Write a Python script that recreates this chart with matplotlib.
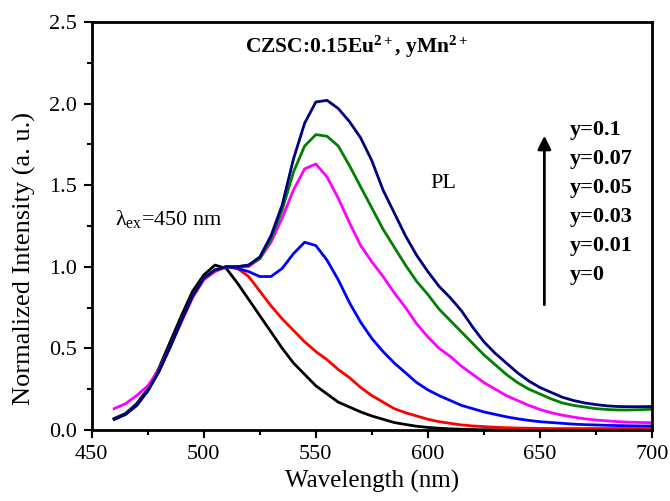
import numpy as np
import matplotlib
matplotlib.use("Agg")
import matplotlib.pyplot as plt
from matplotlib.ticker import MultipleLocator

plt.rcParams["font.family"] = "Liberation Serif"
plt.rcParams["mathtext.fontset"] = "custom"
plt.rcParams["mathtext.rm"] = "Liberation Serif"
plt.rcParams["mathtext.it"] = "Liberation Serif:italic"
plt.rcParams["mathtext.bf"] = "Liberation Serif:bold"

# wavelength grid (nm)
wavelength = list(range(460, 705, 5))

y0 = [0.07, 0.10, 0.16, 0.25, 0.38, 0.54, 0.70, 0.85, 0.95, 1.01, 0.99,
      0.90, 0.80, 0.70, 0.60, 0.50, 0.41, 0.34, 0.27, 0.22, 0.17, 0.14, 0.11,
      0.085, 0.065, 0.045, 0.033, 0.022, 0.015, 0.010, 0.006, 0.004, 0.002,
      0.001, 0.001, 0.001, 0.001, 0.001, 0.001, 0.001, 0.001, 0.001, 0.001,
      0.001, 0.001, 0.001, 0.001, 0.001, 0.001]
y001 = [0.065, 0.095, 0.15, 0.24, 0.36, 0.51, 0.67, 0.82, 0.93, 0.98, 1.0,
        0.99, 0.94, 0.85, 0.76, 0.68, 0.61, 0.54, 0.48, 0.43, 0.37, 0.32, 0.26,
        0.21, 0.17, 0.13, 0.105, 0.085, 0.065, 0.05, 0.04, 0.03, 0.024, 0.02,
        0.016, 0.013, 0.011, 0.010, 0.009, 0.008, 0.008, 0.008, 0.008, 0.008,
        0.008, 0.008, 0.008, 0.008, 0.008]
y003 = [0.065, 0.095, 0.15, 0.24, 0.36, 0.51, 0.67, 0.82, 0.93, 0.98, 1.0,
        0.99, 0.97, 0.94, 0.94, 0.99, 1.08, 1.15, 1.13, 1.04, 0.92, 0.78, 0.66,
        0.56, 0.48, 0.41, 0.35, 0.29, 0.245, 0.21, 0.18, 0.15, 0.13, 0.11,
        0.095, 0.08, 0.068, 0.058, 0.05, 0.045, 0.04, 0.035, 0.032, 0.03,
        0.028, 0.026, 0.025, 0.024, 0.024]
y005 = [0.13, 0.16, 0.21, 0.27, 0.37, 0.51, 0.66, 0.81, 0.92, 0.97, 1.0,
        1.0, 1.0, 1.05, 1.15, 1.30, 1.47, 1.60, 1.63, 1.55, 1.42, 1.27, 1.13,
        1.03, 0.94, 0.84, 0.75, 0.65, 0.57, 0.50, 0.45, 0.39, 0.34, 0.29,
        0.25, 0.21, 0.18, 0.15, 0.125, 0.105, 0.09, 0.078, 0.068, 0.06,
        0.055, 0.05, 0.047, 0.045, 0.044]
y007 = [0.065, 0.095, 0.15, 0.24, 0.36, 0.51, 0.67, 0.82, 0.93, 0.98, 1.0,
        1.0, 1.01, 1.05, 1.17, 1.35, 1.58, 1.74, 1.81, 1.80, 1.74, 1.62, 1.49,
        1.36, 1.23, 1.12, 1.01, 0.91, 0.83, 0.74, 0.67, 0.60, 0.53, 0.46,
        0.40, 0.34, 0.29, 0.25, 0.22, 0.19, 0.165, 0.15, 0.14, 0.13,
        0.125, 0.122, 0.122, 0.124, 0.126]
y01 = [0.065, 0.095, 0.15, 0.24, 0.36, 0.51, 0.67, 0.82, 0.93, 0.98, 1.0,
       1.0, 1.01, 1.06, 1.19, 1.38, 1.66, 1.88, 2.01, 2.02, 1.97, 1.89, 1.79,
       1.65, 1.47, 1.33, 1.19, 1.07, 0.97, 0.88, 0.81, 0.73, 0.63, 0.54,
       0.47, 0.41, 0.35, 0.30, 0.26, 0.23, 0.20, 0.18, 0.165, 0.155,
       0.147, 0.143, 0.142, 0.142, 0.143]

series = [y0, y001, y003, y005, y007, y01]
colors = ["black", "#ff0000", "#0000ff", "#ff00ff", "#008000", "#000080"]
conc_labels = ["y=0.1", "y=0.07", "y=0.05", "y=0.03", "y=0.01", "y=0"]

fig = plt.figure(figsize=(6.7, 5.01), dpi=100)
ax = fig.add_axes([0.137, 0.142, 0.836, 0.814])

for ys, c in zip(series, colors):
    ax.plot(wavelength, ys, color=c, lw=2, solid_joinstyle="round")

ax.set_xlim(450, 700)
ax.set_ylim(0, 2.5)
ax.xaxis.set_major_locator(MultipleLocator(50))
ax.xaxis.set_minor_locator(MultipleLocator(25))
ax.yaxis.set_major_locator(MultipleLocator(0.5))
ax.yaxis.set_minor_locator(MultipleLocator(0.25))
ax.tick_params(which="both", direction="out", width=1.5, labelsize=16,
               top=False, right=False, pad=5)
ax.tick_params(which="major", length=6)
ax.tick_params(which="minor", length=3.5)
for sp in ax.spines.values():
    sp.set_linewidth(2)

ax.set_xlabel("Wavelength (nm)", fontsize=18, labelpad=4)
ax.set_ylabel("Normalized Intensity (a. u.)", fontsize=19)
ax.yaxis.set_label_coords(-0.1, 0.42)

ax.text(568, 2.35, r"CZSC:0.15Eu$^{\mathbf{2+}}$, yMn$^{\mathbf{2+}}$",
        fontsize=15.5, fontweight="bold", ha="center", va="center")
ax.text(460.5, 1.29, r"$\mathrm{\lambda_{ex}}$=450 nm", fontsize=16,
        ha="left", va="center")
ax.text(607, 1.51, "PL", fontsize=16, ha="center", va="center")

ax.annotate("", xy=(652, 1.82), xytext=(652, 0.75),
            arrowprops=dict(arrowstyle="-|>", color="black", lw=2,
                            mutation_scale=20))
for i, lab in enumerate(conc_labels):
    ax.text(663.5, 1.84 - i * 0.178, lab, fontsize=16, fontweight="bold",
            ha="left", va="center")

fig.savefig("out.png", dpi=100)
